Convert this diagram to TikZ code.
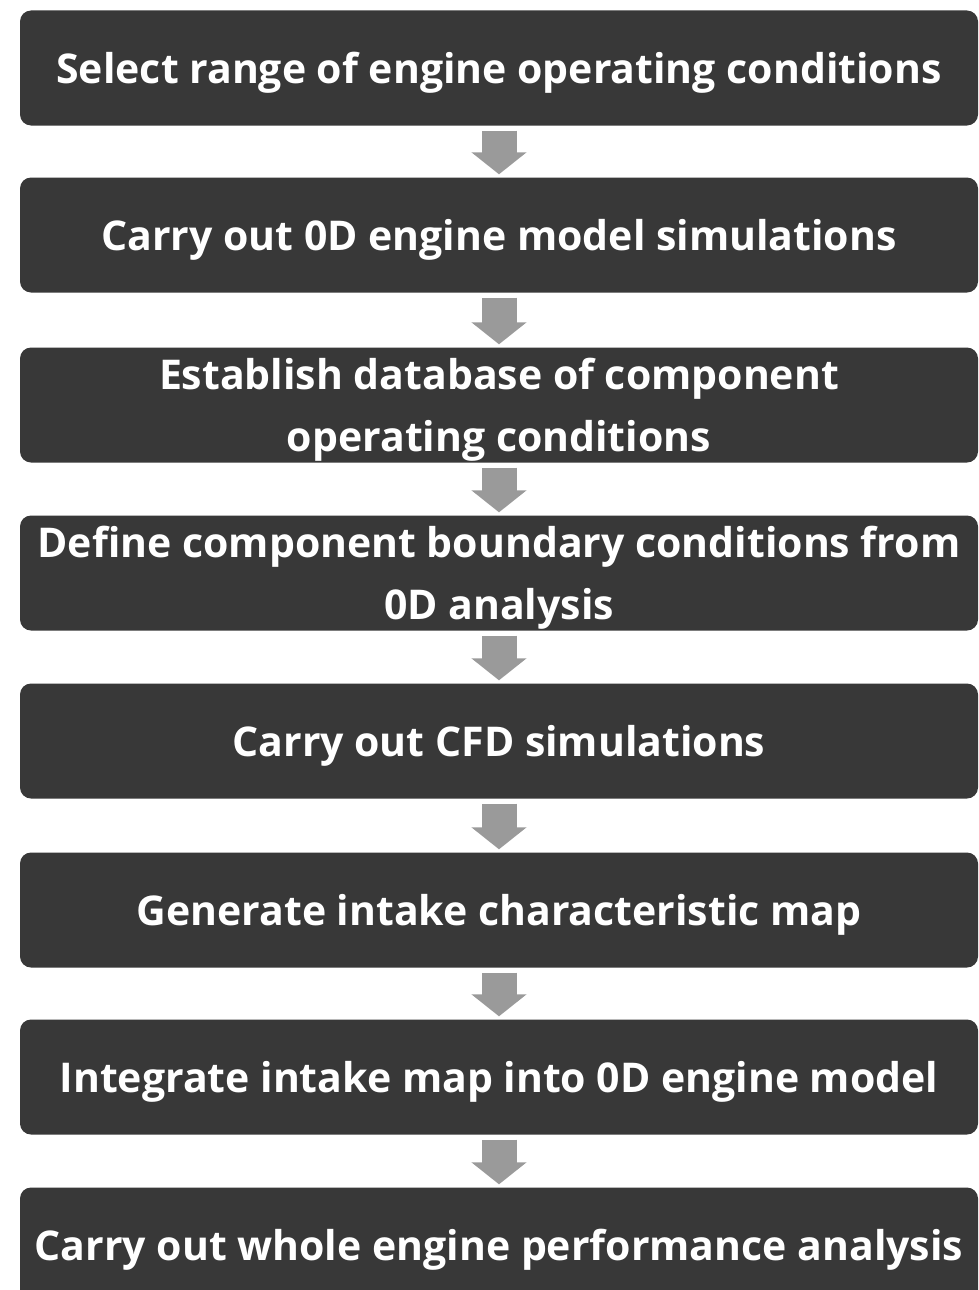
\documentclass[tikz,border=0pt]{standalone}
\usepackage{fontspec}
\setmainfont{Open Sans}
\usetikzlibrary{arrows.meta}
\definecolor{boxfill}{HTML}{383838}
\definecolor{arrowgray}{HTML}{9A9A9A}
\newcommand{\mystrut}{\rule{0pt}{41pt}}
\tikzset{
  stepbox/.style={draw=none, fill=boxfill, rounded corners=11pt, minimum width=958pt, minimum height=115pt,
    text=white, align=center, font=\fontsize{41}{62}\selectfont\bfseries, inner sep=0pt},
  flowarrow/.style={draw=arrowgray, line width=35pt, -{Triangle[width=54pt,length=22pt]}, shorten <=5pt, shorten >=3pt}
}
\begin{document}
\begin{tikzpicture}[x=1pt,y=-1pt]
\clip (0,0) rectangle (979,1290);
\fill[white] (0,0) rectangle (979,1290);
\node[stepbox] (b1) at (499,68) {\mystrut Select range of engine operating conditions};
\node[stepbox] (b2) at (499,235) {\mystrut Carry out 0D engine model simulations};
\node[stepbox] (b3) at (499,405) {\mystrut Establish database of component\\operating conditions};
\node[stepbox] (b4) at (499,573) {\mystrut Define component boundary conditions from\\0D analysis};
\node[stepbox] (b5) at (499,741) {\mystrut Carry out CFD simulations};
\node[stepbox] (b6) at (499,910) {\mystrut Generate intake characteristic map};
\node[stepbox] (b7) at (499,1077) {\mystrut Integrate intake map into 0D engine model};
\node[stepbox] (b8) at (499,1245) {\mystrut Carry out whole engine performance analysis};
\draw[flowarrow] (b1.south) -- (b2.north);
\draw[flowarrow] (b2.south) -- (b3.north);
\draw[flowarrow] (b3.south) -- (b4.north);
\draw[flowarrow] (b4.south) -- (b5.north);
\draw[flowarrow] (b5.south) -- (b6.north);
\draw[flowarrow] (b6.south) -- (b7.north);
\draw[flowarrow] (b7.south) -- (b8.north);
\end{tikzpicture}
\end{document}
